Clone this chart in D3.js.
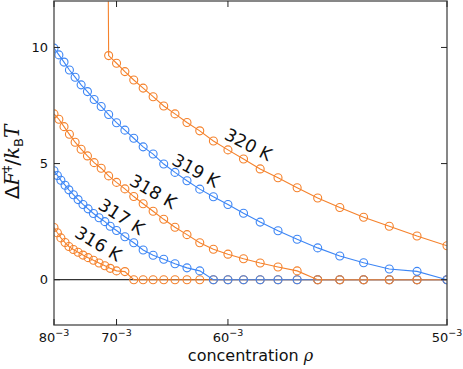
<!DOCTYPE html>
<html lang="en">
  <head>
    <meta charset="utf-8">
    <title>Barrier vs concentration</title>
    <script src="https://d3js.org/d3.v7.min.js"></script>
  </head>
  <style>
    body { margin: 0; background: #fff; }
    text { font-family: "DejaVu Sans", sans-serif; fill: #111; }
    .math { font-family: "DejaVu Serif", serif; font-style: italic; }
  </style>
  <body>
  <div id="chart"></div>
  <script>

  // box lengths L (rho = L^-3) used by the runs
  var L_dense = [80, 79.3, 78.6, 77.8, 77.1, 76.3, 75.5, 74.7, 73.9, 73.1, 72.3, 71.5, 70.8, 70,
                 69, 68, 67, 66, 65, 64, 63, 62, 61, 60, 59, 58, 57, 56, 55, 54, 53, 52, 51, 50];
  var L_int = [80, 79, 78, 77, 76, 75, 74, 73, 72, 71, 70, 69, 68, 67, 66, 65, 64, 63, 62, 61,
               60, 59, 58, 57, 56, 55, 54, 53, 52, 51, 50];
  var L_320 = [72, 71, 70, 69, 68, 67, 66, 65, 64, 63, 62, 61, 60, 59, 58, 57, 56, 55, 54, 53, 52, 51, 50];

  // barrier heights dF/kT
  var F316 = [2.25, 2.02, 1.80, 1.60, 1.43, 1.30, 1.18, 1.06, 0.95, 0.84, 0.72, 0.60, 0.49, 0.38,
              0.35, 0, 0, 0, 0, 0, 0, 0, 0, 0, 0, 0, 0, 0, 0, 0, 0, 0, 0, 0];
  var F317 = [4.69, 4.49, 4.28, 4.07, 3.87, 3.66, 3.45, 3.24, 3.05, 2.85, 2.67, 2.50, 2.30, 2.12,
              1.85, 1.59, 1.28, 1.05, 0.88, 0.69, 0.51, 0.38, 0, 0, 0, 0, 0, 0, 0, 0, 0, 0, 0, 0];
  var F318 = [7.14, 6.91, 6.59, 6.26, 5.92, 5.62, 5.33, 5.04, 4.80, 4.47, 4.19, 3.91, 3.58, 3.27,
              2.95, 2.60, 2.26, 1.94, 1.59, 1.31, 1.10, 0.90, 0.72, 0.55, 0.38, 0, 0, 0, 0, 0, 0];
  var F319 = [9.97, 9.68, 9.37, 9.03, 8.72, 8.39, 8.10, 7.76, 7.46, 7.11, 6.76, 6.44, 6.09, 5.72,
              5.41, 4.98, 4.62, 4.26, 3.90, 3.57, 3.24, 2.86, 2.48, 2.11, 1.74, 1.37, 1.02, 0.73,
              0.46, 0.36, 0];
  var F320 = [60, 9.65, 9.32, 8.96, 8.60, 8.25, 7.88, 7.48, 7.14, 6.77, 6.41, 5.97, 5.59, 5.20,
              4.77, 4.39, 3.96, 3.52, 3.11, 2.69, 2.30, 1.88, 1.46];

  var temps = ["316 K", "317 K", "318 K", "319 K", "320 K"];
  // label anchor (L, value) and angle for each curve label
  var labelL = [72.4, 69.4, 66.0, 62.3, 58.7];
  var labelF = [1.55, 2.72, 3.80, 4.70, 5.82];
  var labelAngle = [31, 33, 30, 29, 27];

  var xTickL = [80, 70, 60, 50];
  var yTicks = [0, 5, 10];

  var orange = "#f5822c", blue = "#3d86f5";
  var series = [
    {L: L_dense, F: F316, color: orange},
    {L: L_dense, F: F317, color: blue},
    {L: L_int, F: F318, color: orange},
    {L: L_int, F: F319, color: blue},
    {L: L_320, F: F320, color: orange}
  ];

  var w = 463, h = 369;
  var margin = {top: 1, right: 16, bottom: 44, left: 54};

  var svg = d3.select("#chart").append("svg")
    .attr("width", w)
    .attr("height", h);

  var xScale = d3.scaleLinear()
    .domain([Math.pow(80, -3), Math.pow(50, -3)])
    .range([margin.left, w - margin.right]);

  var yScale = d3.scaleLinear()
    .domain([-1.95, 12])
    .range([h - margin.bottom, margin.top]);

  svg.append("clipPath").attr("id", "plot-area")
    .append("rect")
    .attr("x", margin.left)
    .attr("y", margin.top)
    .attr("width", w - margin.left - margin.right)
    .attr("height", h - margin.top - margin.bottom);

  var plot = svg.append("g").attr("clip-path", "url(#plot-area)");

  // zero line
  plot.append("line")
    .attr("x1", margin.left).attr("x2", w - margin.right)
    .attr("y1", yScale(0)).attr("y2", yScale(0))
    .attr("stroke", "#000").attr("stroke-width", 1);

  var line = d3.line()
    .x(d => xScale(Math.pow(d[0], -3)))
    .y(d => yScale(d[1]));

  series.forEach(function(s) {
    var pts = s.L.map((l, i) => [l, s.F[i]]);
    plot.append("path")
      .attr("d", line(pts))
      .attr("fill", "none")
      .attr("stroke", s.color)
      .attr("stroke-width", 1.1);
    plot.selectAll(null).data(pts).enter().append("circle")
      .attr("cx", d => xScale(Math.pow(d[0], -3)))
      .attr("cy", d => yScale(d[1]))
      .attr("r", 4)
      .attr("fill", "none")
      .attr("stroke", s.color)
      .attr("stroke-width", 1.1);
  });

  // curve labels
  temps.forEach(function(t, i) {
    var x = xScale(Math.pow(labelL[i], -3)), y = yScale(labelF[i]);
    svg.append("text")
      .attr("transform", `translate(${x},${y}) rotate(${labelAngle[i]})`)
      .attr("text-anchor", "middle")
      .attr("dy", "0.35em")
      .attr("font-size", 17.5)
      .text(t);
  });

  // frame and ticks
  var x0 = margin.left, x1 = w - margin.right, y0 = h - margin.bottom, y1 = margin.top;
  svg.append("rect")
    .attr("x", x0).attr("y", y1)
    .attr("width", x1 - x0).attr("height", y0 - y1)
    .attr("fill", "none").attr("stroke", "#555").attr("stroke-width", 1.4);

  var tk = 6;
  xTickL.forEach(function(l) {
    var x = xScale(Math.pow(l, -3));
    svg.append("line").attr("x1", x).attr("x2", x).attr("y1", y0).attr("y2", y0 - tk)
      .attr("stroke", "#222").attr("stroke-width", 1);
    svg.append("line").attr("x1", x).attr("x2", x).attr("y1", y1).attr("y2", y1 + tk)
      .attr("stroke", "#222").attr("stroke-width", 1);
    var t = svg.append("text")
      .attr("x", x).attr("y", y0 + 17)
      .attr("text-anchor", "middle")
      .attr("font-size", 13);
    t.append("tspan").text(l);
    t.append("tspan").attr("dy", -6).attr("font-size", 9.5).text("\u22123");
  });

  yTicks.forEach(function(v) {
    var y = yScale(v);
    svg.append("line").attr("x1", x0).attr("x2", x0 + tk).attr("y1", y).attr("y2", y)
      .attr("stroke", "#222").attr("stroke-width", 1);
    svg.append("line").attr("x1", x1).attr("x2", x1 - tk).attr("y1", y).attr("y2", y)
      .attr("stroke", "#222").attr("stroke-width", 1);
    svg.append("text")
      .attr("x", x0 - 6).attr("y", y)
      .attr("dy", "0.35em")
      .attr("text-anchor", "end")
      .attr("font-size", 13)
      .text(v);
  });

  // axis titles
  var xl = svg.append("text")
    .attr("x", (x0 + x1) / 2).attr("y", 361)
    .attr("text-anchor", "middle")
    .attr("font-size", 16);
  xl.append("tspan").text("concentration ");
  xl.append("tspan").attr("class", "math").text("\u03c1");

  var yl = svg.append("text")
    .attr("transform", `translate(19,${(y0 + y1) / 2 - 1}) rotate(-90)`)
    .attr("text-anchor", "middle")
    .attr("font-family", "DejaVu Serif, serif")
    .attr("font-size", 20);
  yl.append("tspan").text("\u0394");
  yl.append("tspan").attr("class", "math").text("F");
  yl.append("tspan").attr("dy", -8).attr("font-size", 12).text("\u2021");
  yl.append("tspan").attr("dy", 8).text("/");
  yl.append("tspan").attr("class", "math").text("k");
  yl.append("tspan").attr("dy", 4).attr("font-size", 13).text("B");
  yl.append("tspan").attr("dy", -4).attr("class", "math").text("T");

  </script>
  </body>
</html>
